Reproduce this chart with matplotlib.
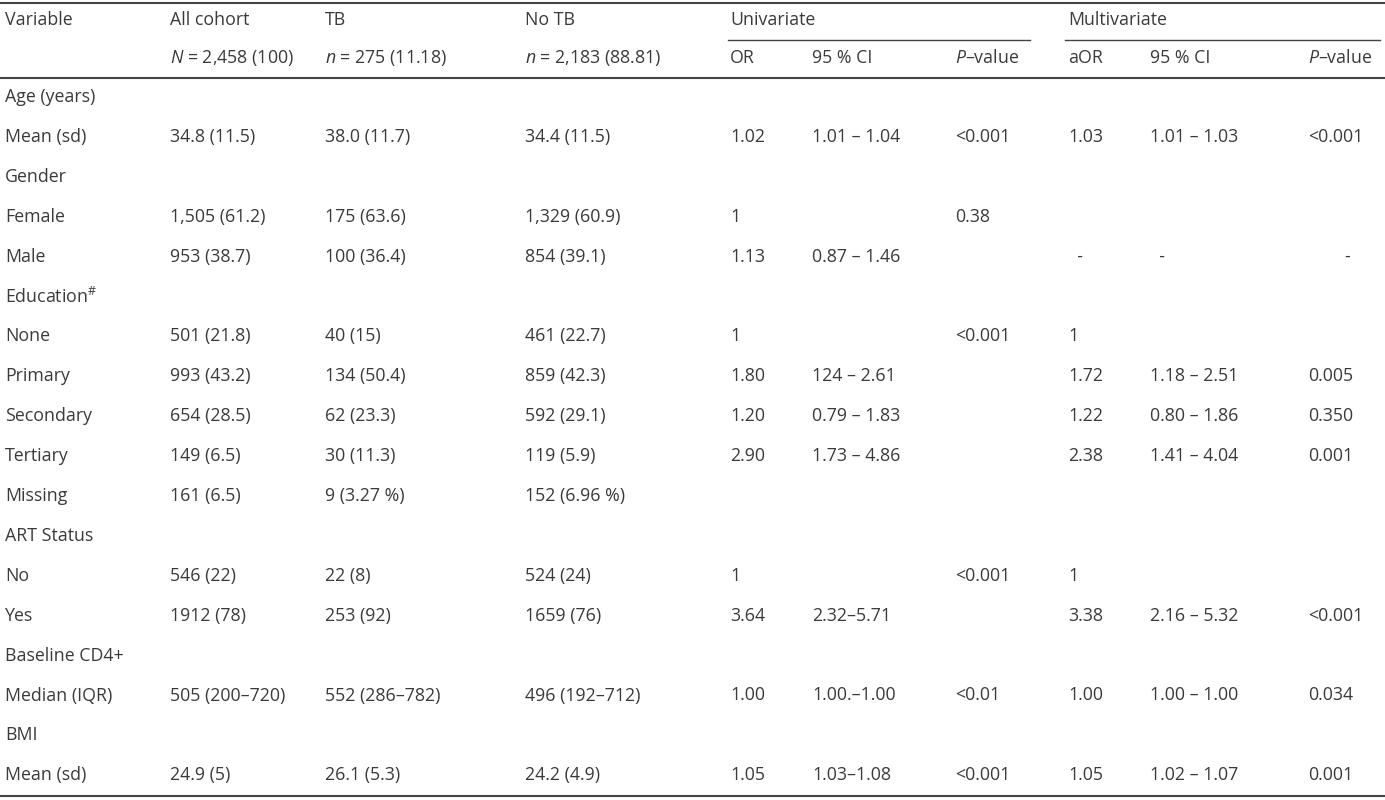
import matplotlib.pyplot as plt

plt.rcParams['font.family'] = ['Open Sans', 'DejaVu Sans']
plt.rcParams['mathtext.fontset'] = 'custom'
plt.rcParams['mathtext.it'] = 'Open Sans:italic'
plt.rcParams['mathtext.rm'] = 'Open Sans'

col_x = [5, 170, 325, 525, 730, 812, 955, 1068, 1150, 1308]
row_labels = ["Age (years)", "Mean (sd)", "Gender", "Female", "Male", "Education$^{\\#}$",
              "None", "Primary", "Secondary", "Tertiary", "Missing", "ART Status", "No", "Yes",
              "Baseline CD4+", "Median (IQR)", "BMI", "Mean (sd)"]
all_cohort = ["", "34.8 (11.5)", "", "1,505 (61.2)", "953 (38.7)", "", "501 (21.8)", "993 (43.2)",
              "654 (28.5)", "149 (6.5)", "161 (6.5)", "", "546 (22)", "1912 (78)", "",
              "505 (200\u2013720)", "", "24.9 (5)"]
tb = ["", "38.0 (11.7)", "", "175 (63.6)", "100 (36.4)", "", "40 (15)", "134 (50.4)", "62 (23.3)",
      "30 (11.3)", "9 (3.27 %)", "", "22 (8)", "253 (92)", "", "552 (286\u2013782)", "", "26.1 (5.3)"]
no_tb = ["", "34.4 (11.5)", "", "1,329 (60.9)", "854 (39.1)", "", "461 (22.7)", "859 (42.3)",
         "592 (29.1)", "119 (5.9)", "152 (6.96 %)", "", "524 (24)", "1659 (76)", "",
         "496 (192\u2013712)", "", "24.2 (4.9)"]
or_ = ["", "1.02", "", "1", "1.13", "", "1", "1.80", "1.20", "2.90", "", "", "1", "3.64", "",
       "1.00", "", "1.05"]
ci_u = ["", "1.01 \u2013 1.04", "", "", "0.87 \u2013 1.46", "", "", "124 \u2013 2.61", "0.79 \u2013 1.83",
        "1.73 \u2013 4.86", "", "", "", "2.32\u20135.71", "", "1.00.\u20131.00", "", "1.03\u20131.08"]
p_u = ["", "<0.001", "", "0.38", "", "", "<0.001", "", "", "", "", "", "<0.001", "", "", "<0.01",
       "", "<0.001"]
aor = ["", "1.03", "", "", "  -", "", "1", "1.72", "1.22", "2.38", "", "", "1", "3.38", "", "1.00",
       "", "1.05"]
ci_m = ["", "1.01 \u2013 1.03", "", "", "  -", "", "", "1.18 \u2013 2.51", "0.80 \u2013 1.86",
        "1.41 \u2013 4.04", "", "", "", "2.16 \u2013 5.32", "", "1.00 \u2013 1.00", "", "1.02 \u2013 1.07"]
p_m = ["", "<0.001", "", "", "        -", "", "", "0.005", "0.350", "0.001", "", "", "", "<0.001", "",
       "0.034", "", "0.001"]

columns = [row_labels, all_cohort, tb, no_tb, or_, ci_u, p_u, aor, ci_m, p_m]

fig = plt.figure(figsize=(13.85, 8), dpi=100)
ax = fig.add_axes([0, 0, 1, 1])
ax.set_xlim(0, 1385)
ax.set_ylim(800, 0)
ax.axis("off")

tc = "#3a3a3a"
fs = 12.8
head1 = ["Variable", "All cohort", "TB", "No TB", "Univariate", "", "", "Multivariate", "", ""]
head2 = ["", "$N$ = 2,458 (100)", "$n$ = 275 (11.18)", "$n$ = 2,183 (88.81)", "OR", "95 % CI",
         "$P$\u2013value", "aOR", "95 % CI", "$P$\u2013value"]
for x, h in zip(col_x, head1):
    ax.text(x, 20, h, fontsize=fs, color=tc, va="center")
for x, h in zip(col_x, head2):
    ax.text(x, 58, h, fontsize=fs, color=tc, va="center")

for i in range(len(row_labels)):
    y = 97 + i * 39.9
    for x, col in zip(col_x, columns):
        ax.text(x, y, col[i], fontsize=fs, color=tc, va="center")

ax.plot([0, 1385], [3, 3], color="#444", lw=1.5)
ax.plot([728, 1030], [40, 40], color="#444", lw=1)
ax.plot([1065, 1380], [40, 40], color="#444", lw=1)
ax.plot([0, 1385], [78, 78], color="#444", lw=1.5)
ax.plot([0, 1385], [796, 796], color="#444", lw=1.5)

fig.savefig("out.png", dpi=100)
